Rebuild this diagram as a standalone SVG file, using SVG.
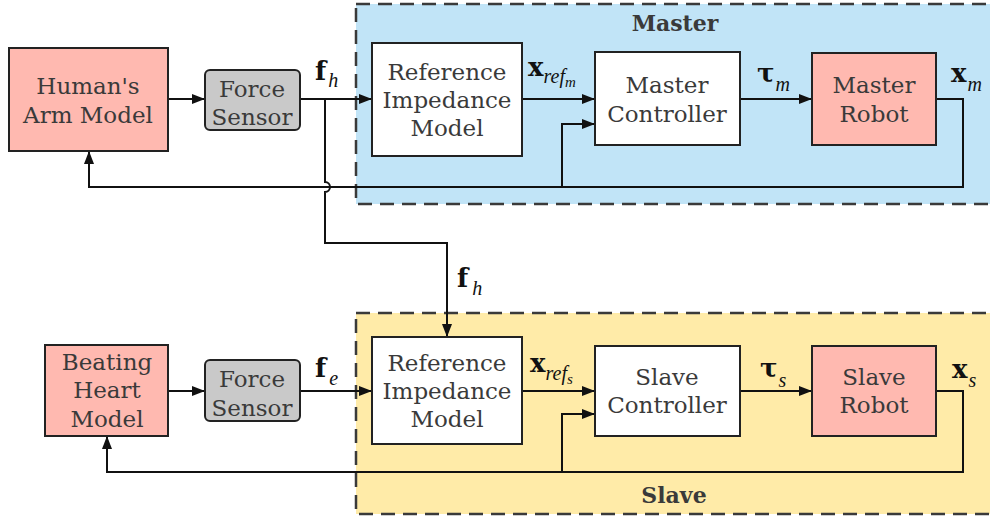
<svg xmlns="http://www.w3.org/2000/svg" width="990" height="519" viewBox="0 0 990 519">
<style>
.region{stroke:#3a3a3a;stroke-width:2.5;stroke-dasharray:14 8}
.box{stroke:#222;stroke-width:2}
.pink{fill:#ffb9b0}
.gray{fill:#c9c9c9}
.white{fill:#ffffff}
.lbl{font-family:"DejaVu Serif","Liberation Serif",serif;font-size:23px;fill:#3a3a3a;text-anchor:middle}
.title{font-family:"DejaVu Serif","Liberation Serif",serif;font-size:22px;font-weight:bold;fill:#3a3a3a;text-anchor:middle}
.mb{font-family:"DejaVu Serif","Liberation Serif",serif;font-size:26px;font-weight:bold;fill:#111}
.mi{font-family:"Liberation Serif","DejaVu Serif",serif;font-size:20px;font-style:italic;fill:#111}
.ms{font-family:"Liberation Serif","DejaVu Serif",serif;font-size:15px;font-style:italic;fill:#111}
.wire{fill:none;stroke:#111;stroke-width:2}
</style>
<defs>
<marker id="arr" viewBox="0 0 13 10" refX="13" refY="5" markerWidth="13" markerHeight="10" markerUnits="userSpaceOnUse" orient="auto">
<path d="M0,0 L13,5 L0,10 Z" fill="#111"/>
</marker>
</defs>

<g id="master-region">
<rect class="region" x="356" y="4" width="700" height="200" fill="#c1e4f7"/>
<text class="title" x="675" y="31">Master</text>
</g>
<g id="slave-region">
<rect class="region" x="356" y="313" width="700" height="201" fill="#ffeba8"/>
<text class="title" x="674" y="503">Slave</text>
</g>

<g id="connectors">
<path class="wire" d="M168,99 H205" marker-end="url(#arr)"/>
<path class="wire" d="M300,99 H372" marker-end="url(#arr)"/>
<path class="wire" d="M522,99 H595" marker-end="url(#arr)"/>
<path class="wire" d="M740,99 H812" marker-end="url(#arr)"/>
<path class="wire" d="M936,99 H963 V187 H89 V151" marker-end="url(#arr)"/>
<path class="wire" d="M562,187 V124 H595" marker-end="url(#arr)"/>
<path class="wire" d="M325,99 V182 A5,5 0 0 1 325,192 V243 H447 V337" marker-end="url(#arr)"/>
<path class="wire" d="M168,391 H205" marker-end="url(#arr)"/>
<path class="wire" d="M300,391 H372" marker-end="url(#arr)"/>
<path class="wire" d="M522,391 H595" marker-end="url(#arr)"/>
<path class="wire" d="M740,391 H812" marker-end="url(#arr)"/>
<path class="wire" d="M936,391 H963 V472 H107 V436" marker-end="url(#arr)"/>
<path class="wire" d="M562,472 V414 H595" marker-end="url(#arr)"/>
</g>

<g id="human-arm-model">
<rect class="box pink" x="9" y="48" width="159" height="103"/>
<text class="lbl" x="88" y="94">Human's</text>
<text class="lbl" x="88" y="123">Arm Model</text>
</g>
<g id="force-sensor-top">
<rect class="box gray" x="205" y="70" width="95" height="60" rx="5"/>
<text class="lbl" x="252" y="97">Force</text>
<text class="lbl" x="252" y="125">Sensor</text>
</g>
<g id="ref-impedance-master">
<rect class="box white" x="372" y="43" width="150" height="113"/>
<text class="lbl" x="447" y="80">Reference</text>
<text class="lbl" x="447" y="108">Impedance</text>
<text class="lbl" x="447" y="136">Model</text>
</g>
<g id="master-controller">
<rect class="box white" x="595" y="52" width="145" height="93"/>
<text class="lbl" x="667" y="93">Master</text>
<text class="lbl" x="667" y="122">Controller</text>
</g>
<g id="master-robot">
<rect class="box pink" x="812" y="53" width="124" height="92"/>
<text class="lbl" x="874" y="93">Master</text>
<text class="lbl" x="874" y="122">Robot</text>
</g>

<g id="beating-heart-model">
<rect class="box pink" x="45" y="345" width="123" height="91"/>
<text class="lbl" x="107" y="370">Beating</text>
<text class="lbl" x="107" y="398">Heart</text>
<text class="lbl" x="107" y="427">Model</text>
</g>
<g id="force-sensor-bottom">
<rect class="box gray" x="205" y="360" width="95" height="61" rx="5"/>
<text class="lbl" x="252" y="387">Force</text>
<text class="lbl" x="252" y="416">Sensor</text>
</g>
<g id="ref-impedance-slave">
<rect class="box white" x="372" y="337" width="150" height="107"/>
<text class="lbl" x="447" y="371">Reference</text>
<text class="lbl" x="447" y="399">Impedance</text>
<text class="lbl" x="447" y="427">Model</text>
</g>
<g id="slave-controller">
<rect class="box white" x="595" y="346" width="145" height="90"/>
<text class="lbl" x="667" y="385">Slave</text>
<text class="lbl" x="667" y="413">Controller</text>
</g>
<g id="slave-robot">
<rect class="box pink" x="812" y="346" width="124" height="90"/>
<text class="lbl" x="874" y="385">Slave</text>
<text class="lbl" x="874" y="413">Robot</text>
</g>

<g id="labels">
<text x="315" y="80"><tspan class="mb">f</tspan><tspan class="mi" dx="2" dy="7">h</tspan></text>
<text x="528" y="76"><tspan class="mb">x</tspan><tspan class="mi" dy="7">ref</tspan><tspan class="ms" dy="4">m</tspan></text>
<text x="757" y="82"><tspan class="mb">τ</tspan><tspan class="mi" dx="1" dy="9">m</tspan></text>
<text x="951" y="82"><tspan class="mb">x</tspan><tspan class="mi" dx="1" dy="9">m</tspan></text>
<text x="457" y="287"><tspan class="mb">f</tspan><tspan class="mi" dx="4" dy="8">h</tspan></text>
<text x="315" y="377"><tspan class="mb">f</tspan><tspan class="mi" dx="3" dy="8">e</tspan></text>
<text x="530" y="372"><tspan class="mb">x</tspan><tspan class="mi" dy="8">ref</tspan><tspan class="ms" dy="4">s</tspan></text>
<text x="760" y="377"><tspan class="mb">τ</tspan><tspan class="mi" dx="1" dy="10">s</tspan></text>
<text x="952" y="378"><tspan class="mb">x</tspan><tspan class="mi" dx="1" dy="9">s</tspan></text>
</g>
</svg>
